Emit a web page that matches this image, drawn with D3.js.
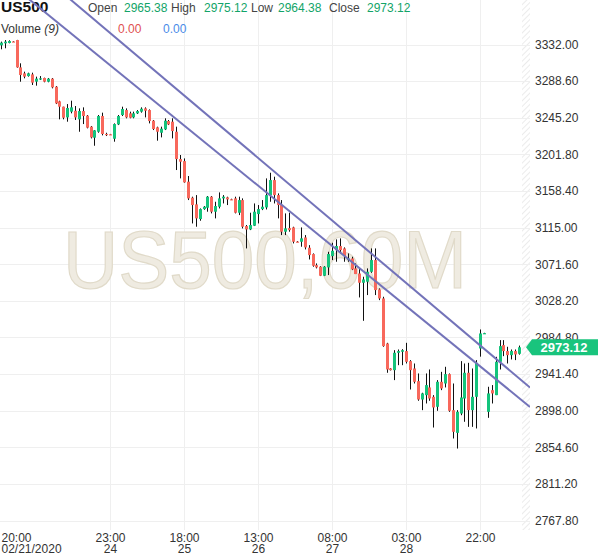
<!DOCTYPE html>
<html>
<head>
<meta charset="utf-8">
<script src="https://cdn.jsdelivr.net/npm/d3@7"></script>
<style>
  html, body { margin: 0; padding: 0; background: #fff; }
  svg { display: block; font-family: "Liberation Sans", Arial, sans-serif; }
</style>
</head>
<body>
<div id="chart"></div>
<script>
// US500 hourly candles, 02/21/2020 20:00 -> 02/28/2020
const opens = [3331.0,3333.4,3333.8,3335.6,3337.3,3304.9,3297.8,3294.6,3296.6,3288.0,
  3290.7,3292.3,3287.9,3291.5,3282.0,3264.6,3258.3,3245.6,3252.4,3253.5,
  3243.3,3253.1,3247.6,3234.6,3221.5,3228.6,3247.2,3226.0,3225.6,3220.3,
  3237.3,3248.4,3254.3,3250.4,3245.6,3250.4,3252.4,3256.3,3254.3,3241.7,
  3233.8,3227.4,3231.4,3241.3,3240.5,3228.6,3196.2,3193.8,3169.4,3150.4,
  3142.5,3125.1,3136.9,3138.5,3151.6,3133.8,3139.7,3149.6,3150.8,3148.6,
  3149.6,3132.6,3147.6,3116.8,3112.8,3117.2,3131.0,3136.9,3138.9,3153.5,
  3171.3,3153.5,3141.7,3110.1,3114.4,3115.2,3098.4,3098.2,3103.3,3091.1,
  3083.6,3070.5,3068.6,3057.9,3067.8,3081.2,3088.3,3093.1,3090.3,3076.5,
  3078.4,3066.6,3060.6,3049.6,3050.8,3062.6,3076.5,3041.7,3031.0,2977.6,
  2948.0,2946.0,2966.6,2967.8,2968.6,2956.7,2948.0,2933.0,2911.2,2916.4,
  2925.5,2914.4,2902.6,2932.2,2930.2,2941.3,2898.6,2871.7,2894.6,2912.4,
  2942.9,2898.6,2914.4,2971.7,2989.2,2896.6,2922.3,2916.4,2955.9,2975.7,
  2968.6,2963.8,2968.6,2965.38];
const highs = [3335.4,3337.3,3337.0,3336.0,3337.5,3309.7,3299.8,3298.6,3298.6,3293.9,
  3294.6,3292.7,3292.3,3292.3,3282.8,3265.4,3258.3,3261.4,3265.4,3259.1,
  3256.3,3257.5,3248.4,3235.4,3230.6,3248.4,3251.2,3227.4,3226.0,3238.5,
  3248.4,3258.3,3256.3,3252.4,3252.4,3254.3,3257.5,3257.5,3255.1,3242.5,
  3234.6,3234.6,3244.5,3242.5,3244.5,3234.6,3201.0,3197.0,3176.1,3151.6,
  3153.5,3137.7,3140.5,3152.4,3152.4,3145.6,3156.7,3153.5,3151.6,3149.2,
  3151.6,3151.6,3149.6,3118.0,3132.6,3143.6,3141.7,3147.6,3173.3,3180.0,
  3175.3,3155.5,3147.6,3131.8,3132.6,3116.0,3099.0,3115.2,3106.1,3094.2,
  3084.4,3072.5,3069.3,3069.3,3086.3,3097.0,3101.0,3102.2,3091.5,3084.4,
  3080.4,3072.5,3066.6,3056.7,3066.6,3090.3,3090.3,3042.9,3033.0,2978.4,
  2948.4,2969.7,2970.5,2970.9,2978.4,2957.9,2953.9,2942.1,2919.2,2942.1,
  2946.8,2916.4,2934.2,2944.0,2950.0,2942.1,2930.2,2898.6,2956.7,2953.9,
  2954.7,2948.0,2957.9,2994.2,2990.3,2926.3,2928.3,2961.8,2981.6,2981.6,
  2973.7,2970.5,2970.5,2975.12];
const lows = [3326.3,3327.5,3333.4,3335.0,3304.5,3287.9,3291.9,3293.9,3284.0,3283.2,
  3289.9,3287.2,3287.2,3280.0,3261.4,3243.3,3243.3,3240.5,3250.4,3242.5,
  3228.6,3237.7,3232.6,3220.7,3212.0,3227.4,3224.3,3223.5,3225.0,3216.8,
  3236.5,3247.2,3244.5,3244.5,3244.5,3249.6,3251.2,3245.6,3238.5,3230.6,
  3218.0,3221.9,3230.6,3236.5,3220.7,3183.2,3173.3,3168.2,3147.6,3119.9,
  3116.0,3123.1,3136.1,3133.8,3131.8,3125.9,3137.7,3143.6,3141.7,3147.6,
  3131.8,3129.8,3114.0,3090.3,3112.0,3116.8,3119.9,3135.7,3136.5,3145.6,
  3143.6,3125.9,3106.1,3106.1,3110.1,3096.2,3097.6,3092.3,3089.1,3077.2,
  3068.6,3066.6,3057.5,3057.5,3058.7,3076.5,3074.5,3084.4,3074.5,3074.5,
  3064.6,3059.9,3032.2,3004.5,3035.0,3061.4,3035.0,3029.0,2973.7,2942.9,
  2945.6,2934.2,2951.9,2951.9,2953.9,2923.1,2930.2,2909.7,2898.6,2906.5,
  2909.7,2878.0,2897.8,2922.3,2925.5,2896.6,2865.0,2853.1,2892.6,2884.8,
  2878.8,2878.8,2876.9,2962.0,2988.9,2889.5,2906.5,2916.4,2946.8,2962.6,
  2953.9,2958.7,2957.9,2964.38];
const closes = [3334.2,3335.4,3336.1,3335.4,3304.9,3295.8,3293.9,3297.8,3286.8,3291.5,
  3291.9,3287.9,3291.5,3281.2,3262.2,3258.3,3245.2,3256.7,3257.5,3245.6,
  3253.1,3247.2,3233.4,3221.9,3230.2,3247.2,3225.9,3225.6,3225.4,3237.7,
  3247.2,3255.5,3245.6,3245.2,3250.4,3253.1,3255.9,3253.5,3241.3,3231.8,
  3228.6,3232.2,3241.7,3237.3,3229.4,3196.2,3193.1,3168.6,3149.6,3141.7,
  3125.9,3136.9,3139.7,3151.6,3133.8,3140.5,3149.6,3151.6,3148.4,3148.2,
  3132.6,3147.6,3116.0,3112.8,3118.0,3133.8,3136.9,3139.7,3153.5,3171.3,
  3153.5,3141.7,3110.1,3114.0,3112.0,3098.2,3098.0,3102.2,3091.5,3082.4,
  3069.7,3067.8,3057.9,3068.6,3083.6,3087.5,3093.1,3088.3,3081.2,3078.4,
  3065.4,3059.9,3049.6,3053.5,3062.6,3076.5,3040.9,3031.0,2974.5,2946.8,
  2946.0,2966.6,2968.6,2969.7,2955.9,2946.0,2932.2,2911.2,2918.4,2928.3,
  2912.4,2901.8,2932.2,2924.3,2941.3,2897.8,2872.9,2896.6,2913.6,2942.9,
  2898.6,2914.4,2954.7,2989.5,2989.9,2918.4,2918.4,2955.9,2974.5,2968.6,
  2963.8,2968.6,2964.6,2973.12];

const priceTicks = [3332.00, 3288.60, 3245.20, 3201.80, 3158.40, 3115.00, 3071.60,
  3028.20, 2984.80, 2941.40, 2898.00, 2854.60, 2811.20, 2767.80];

const timeTickIdx = [0, 28, 47, 66, 85, 104, 123];
const timeTickHour = ["20:00", "23:00", "18:00", "13:00", "08:00", "03:00", "22:00"];
const timeTickDay = ["02/21/2020", "24", "25", "26", "27", "28", ""];

// trend channel anchors: [bar index, price]
const trendUpper = [[27.1, 3349.2], [135.8, 2925.5]];
const trendLower = [[16.9, 3349.2], [135.8, 2902.5]];

const symbol = "US500";
const timeframe = "60M";
const ohlcNames = ["Open", "High", "Low", "Close"];
const volumeValues = ["0.00", "0.00"];

const width = 599, height = 558;
const plotRight = 530, plotBottom = 530;

const upColor = "#14c47c", downColor = "#f8685c";

const svg = d3.select("#chart").append("svg")
  .attr("width", width)
  .attr("height", height);

const x = d3.scaleLinear().domain([0, closes.length - 1]).range([1, 519]);
const y = d3.scaleLinear().domain([2767.8, 3332]).range([520.5, 44.5]);

const candles = opens.map((o, i) => ({ i, o, h: highs[i], l: lows[i], c: closes[i] }));

// hatched strip at right edge of plot
const defs = svg.append("defs");
const pat = defs.append("pattern")
  .attr("id", "hatch")
  .attr("width", 4).attr("height", 4)
  .attr("patternUnits", "userSpaceOnUse")
  .attr("patternTransform", "rotate(45)");
pat.append("line")
  .attr("x1", 0).attr("y1", 0).attr("x2", 0).attr("y2", 4)
  .attr("stroke", "#e4e4e4").attr("stroke-width", 1.5);
defs.append("clipPath").attr("id", "plotclip")
  .append("rect").attr("x", 0).attr("y", 0).attr("width", plotRight).attr("height", plotBottom);

svg.append("rect")
  .attr("x", 522).attr("y", 0)
  .attr("width", plotRight - 522).attr("height", plotBottom)
  .attr("fill", "url(#hatch)");

// grid
svg.append("g").selectAll("line")
  .data(priceTicks)
  .join("line")
  .attr("x1", 0).attr("x2", plotRight)
  .attr("y1", d => Math.round(y(d)) + 0.5).attr("y2", d => Math.round(y(d)) + 0.5)
  .attr("stroke", "#efefef");

svg.append("g").selectAll("line")
  .data(timeTickIdx.slice(1))
  .join("line")
  .attr("x1", d => Math.round(x(d)) + 0.5).attr("x2", d => Math.round(x(d)) + 0.5)
  .attr("y1", 0).attr("y2", plotBottom)
  .attr("stroke", "#efefef");

// watermark
svg.append("text")
  .attr("x", 63).attr("y", 288)
  .attr("textLength", 404)
  .attr("lengthAdjust", "spacingAndGlyphs")
  .style("font-size", "82px")
  .attr("fill", "#efebe1")
  .attr("stroke", "#e0dac9")
  .attr("stroke-width", 1.2)
  .text(symbol + "," + timeframe);

// header
const head = svg.append("g");
head.append("text")
  .attr("x", 1).attr("y", 12)
  .style("font-size", "15.5px").style("font-weight", "bold")
  .attr("fill", "#111")
  .text(symbol);

const last = candles[candles.length - 1];
const ohlcVals = [last.o, last.h, last.l, last.c];
const nameX = [88, 171, 251, 329];
const valX = [124, 204, 278, 367];
ohlcNames.forEach((n, k) => {
  head.append("text").attr("x", nameX[k]).attr("y", 12)
    .style("font-size", "12px").attr("fill", "#444").text(n);
  head.append("text").attr("x", valX[k]).attr("y", 12)
    .style("font-size", "12px").attr("fill", "#12a468").text(ohlcVals[k].toFixed(2));
});

const vol = head.append("text").attr("x", 1).attr("y", 33)
  .style("font-size", "12px").attr("fill", "#333");
vol.append("tspan").text("Volume ");
vol.append("tspan").style("font-style", "italic").text("(9)");
head.append("text").attr("x", 118).attr("y", 33)
  .style("font-size", "12px").attr("fill", "#e05050").text(volumeValues[0]);
head.append("text").attr("x", 163).attr("y", 33)
  .style("font-size", "12px").attr("fill", "#4a8be8").text(volumeValues[1]);

// candles
const cg = svg.append("g").attr("clip-path", "url(#plotclip)");
const cx = d => Math.round(x(d.i));

cg.selectAll("line.wick")
  .data(candles)
  .join("line")
  .attr("class", "wick")
  .attr("x1", d => cx(d) + 0.5).attr("x2", d => cx(d) + 0.5)
  .attr("y1", d => y(d.h)).attr("y2", d => y(d.l))
  .attr("stroke", "#111").attr("stroke-width", 1);

cg.selectAll("rect.body")
  .data(candles)
  .join("rect")
  .attr("class", "body")
  .attr("x", d => cx(d) - 1)
  .attr("width", 3)
  .attr("y", d => y(Math.max(d.o, d.c)))
  .attr("height", d => Math.max(1.2, Math.abs(y(d.o) - y(d.c))))
  .attr("fill", d => d.c >= d.o ? upColor : downColor);

// trend channel
function extend(pts) {
  const [[i1, p1], [i2, p2]] = pts;
  const slope = (p2 - p1) / (i2 - i1);
  const a = x.invert(0), b = x.invert(plotRight);
  return [[a, p1 + (a - i1) * slope], [b, p1 + (b - i1) * slope]];
}
const trendLine = d3.line().x(d => x(d[0])).y(d => y(d[1]));
cg.selectAll("path.trend")
  .data([trendUpper, trendLower])
  .join("path")
  .attr("class", "trend")
  .attr("d", d => trendLine(extend(d)))
  .attr("fill", "none")
  .attr("stroke", "#7373b9")
  .attr("stroke-width", 2);

// price axis
const yAxis = d3.axisRight(y)
  .tickValues(priceTicks)
  .tickSize(0)
  .tickPadding(0)
  .tickFormat(d3.format(".2f"));
const ya = svg.append("g")
  .attr("transform", "translate(535,0)")
  .call(yAxis);
ya.select(".domain").remove();
ya.selectAll("text").style("font-size", "12px").attr("fill", "#333")
  .style("font-family", "'Liberation Sans', Arial, sans-serif");

// time axis
const xAxis = d3.axisBottom(x)
  .tickValues(timeTickIdx)
  .tickSize(0)
  .tickFormat((d, k) => timeTickHour[k]);
const xa = svg.append("g")
  .attr("transform", "translate(0,0)")
  .call(xAxis);
xa.select(".domain").remove();
xa.selectAll(".tick").attr("transform", d => `translate(${Math.round(x(d)) + 0.5},0)`);
xa.selectAll(".tick text").each(function (d, k) {
  const t = d3.select(this);
  t.text(null).attr("y", 542).attr("dy", null)
    .style("font-size", "12px").attr("fill", "#333")
    .style("font-family", "'Liberation Sans', Arial, sans-serif");
  if (k === 0) t.attr("text-anchor", "start").attr("x", 1 - x(d));
  t.append("tspan").text(timeTickHour[k]);
  t.append("tspan").attr("x", k === 0 ? 1 - x(d) : 0).attr("dy", 11).text(timeTickDay[k]);
});

// last price tag
const ly = y(last.c);
const tag = svg.append("g");
tag.append("path")
  .attr("d", `M526,${ly} L532,${ly - 8} L598,${ly - 8} L598,${ly + 8} L532,${ly + 8} Z`)
  .attr("fill", "#19c47d");
tag.append("text")
  .attr("x", 564).attr("y", ly + 4.5)
  .attr("text-anchor", "middle")
  .style("font-size", "13px").style("font-weight", "bold")
  .attr("fill", "#fff")
  .text(last.c.toFixed(2));
</script>
</body>
</html>
